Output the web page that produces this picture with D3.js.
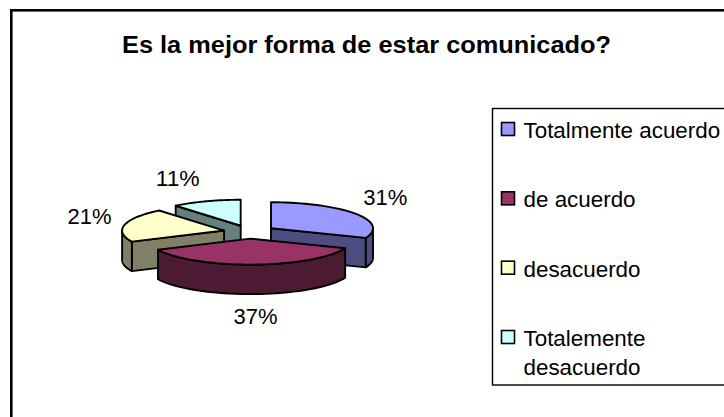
<!DOCTYPE html>
<html><head><meta charset="utf-8">
<script src="https://cdn.jsdelivr.net/npm/d3@7"></script>
<style>html,body{margin:0;padding:0;background:#fff}svg{display:block}text{font-family:"Liberation Sans",Arial,sans-serif;fill:#000}</style>
</head><body><svg id="c" width="724" height="417"></svg>
<script>
const title = "Es la mejor forma de estar comunicado?";
const categories = ["Totalmente acuerdo","de acuerdo","desacuerdo","Totalemente desacuerdo"];
const legendLines = [["Totalmente acuerdo"],["de acuerdo"],["desacuerdo"],["Totalemente","desacuerdo"]];
const values = [31,37,21,11];
const topColors = ["#9999FF","#993366","#FFFFCC","#CCFFFF"];
const sideColors = ["#4D4D80","#4D1A33","#808066","#668080"];
const labelOffsets = [[30,-16],[2,22.5],[-35,-8.3],[-28.5,-22.5]];
const drawOrder = [3,2,0,1];

const rx=102, ry=26, depth=29.5, explode=26, cx=249.5, cy=232;
const svg=d3.select("#c");
svg.append("rect").attr("x",11.3).attr("y",10.3).attr("width",760).attr("height",440).attr("fill","#fff").attr("stroke","#000").attr("stroke-width",2.6);
svg.append("text").attr("x",366.5).attr("y",52.5).attr("text-anchor","middle").attr("font-size",24).attr("font-weight","bold")
  .attr("textLength",489).attr("lengthAdjust","spacingAndGlyphs").text(title);

const arcs=d3.pie().sort(null).value(d=>d)(values);
const sx=d3.scaleLinear().domain([-1,1]).range([-rx,rx]);
const sy=d3.scaleLinear().domain([-1,1]).range([-ry,ry]);
const geo=arcs.map(a=>{const m=(a.startAngle+a.endAngle)/2;
  return {a,m,ox:cx+sx(Math.sin(m))*explode/rx,oy:cy-sy(Math.cos(m))*explode/rx};});
const pt=(g,ang,dz=0)=>[g.ox+sx(Math.sin(ang)),g.oy-sy(Math.cos(ang))+dz];
const samples=(s,e)=>d3.range(0,41).map(i=>s+(e-s)*i/40);
const line=d3.line();
const stroke=(sel,f)=>sel.attr("fill",f).attr("stroke","#000").attr("stroke-width",1.9).attr("stroke-linejoin","round");
function wall(g,ang,color){
  const c=[g.ox,g.oy],p=pt(g,ang);
  stroke(svg.append("path").attr("d",line([c,p,[p[0],p[1]+depth],[c[0],c[1]+depth]])+"Z"),color);
}
drawOrder.forEach(i=>{
  const g=geo[i],s=g.a.startAngle,e=g.a.endAngle;
  if(Math.cos(s-Math.PI/2)<0) wall(g,s,sideColors[i]);
  if(Math.cos(e+Math.PI/2)<0) wall(g,e,sideColors[i]);
  const rs=Math.max(s,Math.PI/2),re=Math.min(e,Math.PI*1.5);
  if(re>rs){
    const ang=samples(rs,re);
    const top=ang.map(t=>pt(g,t)),bot=ang.map(t=>pt(g,t,depth)).reverse();
    stroke(svg.append("path").attr("d",line(top.concat(bot))+"Z"),sideColors[i]);
  }
  const rim=samples(s,e).map(t=>pt(g,t));
  stroke(svg.append("path").attr("d",line([[g.ox,g.oy],...rim])+"Z"),topColors[i]);
});
geo.forEach((g,i)=>{
  const p=pt(g,g.m,(g.m>Math.PI/2&&g.m<Math.PI*1.5)?depth:0);
  svg.append("text").attr("x",p[0]+labelOffsets[i][0]).attr("y",p[1]+labelOffsets[i][1]).attr("dy","0.35em")
    .attr("text-anchor","middle").attr("font-size",21.5).attr("textLength",44).attr("lengthAdjust","spacingAndGlyphs").text(values[i]+"%");
});
svg.append("rect").attr("x",492.5).attr("y",108.5).attr("width",260).attr("height",276.5).attr("fill","#fff").attr("stroke","#000").attr("stroke-width",1.4);
const ly=d3.scalePoint().domain(categories).range([130,338]);
categories.forEach((c,i)=>{
  const y=ly(c);
  svg.append("rect").attr("x",501.5).attr("y",y-7.5).attr("width",13).attr("height",13).attr("fill",topColors[i]).attr("stroke","#000").attr("stroke-width",1.6);
  legendLines[i].forEach((t,j)=>svg.append("text").attr("x",523.5).attr("y",y+j*29).attr("dy","0.35em").attr("font-size",22.4).text(t));
});
</script></body></html>
